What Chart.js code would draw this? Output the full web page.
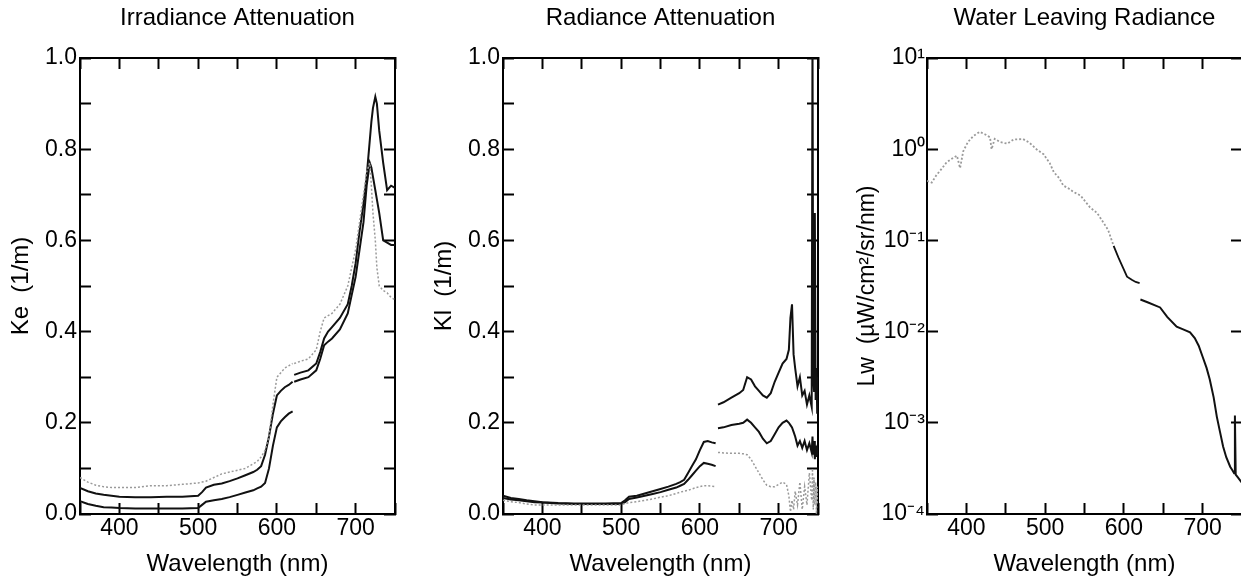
<!DOCTYPE html>
<html><head><meta charset="utf-8">
<script src="https://cdn.jsdelivr.net/npm/chart.js@4"></script>
<style>
html,body{margin:0;padding:0;background:#fff;overflow:hidden;width:1241px;height:579px;position:relative}
canvas{position:absolute;top:0}
</style></head><body>
<canvas id="c1" width="475" height="579" style="left:0px"></canvas>
<canvas id="c2" width="475" height="579" style="left:423px"></canvas>
<canvas id="c3" width="475" height="579" style="left:847px"></canvas>
<script>
// ---------- categories / tick labels ----------
const xTickLabels = [400, 500, 600, 700];
const yTickLabels = ['0.0', '0.2', '0.4', '0.6', '0.8', '1.0'];
const lwTickValues = [1e-4, 1e-3, 1e-2, 1e-1, 1, 10];
const lwTickLabels = ['10\u207B\u2074', '10\u207B\u00B3', '10\u207B\u00B2', '10\u207B\u00B9', '10\u2070', '10\u00B9'];
const panelTitles = ['Irradiance Attenuation', 'Radiance Attenuation', 'Water Leaving Radiance'];
const yTitles = ['Ke  (1/m)', 'Kl  (1/m)', 'Lw  (\u00B5W/cm\u00B2/sr/nm)'];
const xTitle = 'Wavelength (nm)';

// ---------- wavelengths ----------
const wlShort = [350,360,370,380,390,400,420,440,460,480,500,505,510,520,530,540,550,560,570,575,580,585,590,595,600,605,610,615,620];
const wlLong1 = [622,630,640,650,655,660,665,670,680,690,695,700,705,710,714,718,720,722,725,727,730,735,740,745,750];
const wlLong2 = [623,630,640,650,655,660,665,670,675,680,685,690,695,700,705,710,713,715,717,719,721,724,727,730,733,736,739,742,743,744,745,746,747,748,749,750];
const lwShortWl = [350,356,362,368,375,383,388,392,396,402,409,417,424,430,432,436,443,452,460,472,480,489,498,506,511,518,523,530,536,545,557,566,574,580,587,593,599,604,610,615,620];
const lwLongWl = [621,630,646,655,667,676,684,690,695,700,705,709,714,718,722,726,730,735,738,740,741,742,745,750];

// ---------- Panel 1: Ke ----------
const keGrayShort = [.08,.07,.063,.06,.058,.058,.058,.062,.062,.065,.068,.07,.072,.08,.088,.092,.096,.1,.11,.115,.125,.14,.17,.24,.3,.31,.32,.325,.33];
const keMidShort  = [.057,.05,.045,.042,.04,.038,.037,.037,.038,.038,.04,.048,.058,.064,.067,.072,.078,.085,.092,.097,.105,.13,.17,.22,.26,.27,.278,.283,.29];
const keLowShort  = [.028,.022,.018,.015,.014,.013,.012,.012,.012,.012,.013,.02,.027,.03,.033,.037,.042,.047,.052,.056,.06,.068,.1,.15,.19,.203,.212,.22,.225];
const keGrayLong  = [.33,.335,.34,.36,.40,.43,.435,.44,.46,.5,.54,.58,.64,.70,.75,.77,.72,.66,.6,.54,.5,.49,.485,.475,.47];
const keMidLong   = [.29,.295,.3,.315,.34,.37,.378,.385,.405,.44,.48,.52,.58,.64,.72,.77,.76,.74,.71,.69,.66,.6,.595,.59,.59];
const keLowLong   = [.305,.31,.315,.33,.355,.385,.4,.41,.43,.46,.5,.55,.62,.68,.74,.82,.86,.89,.915,.9,.84,.77,.71,.72,.715];

// ---------- Panel 2: Kl ----------
const klAShort    = [.04,.035,.033,.03,.028,.026,.024,.023,.023,.023,.024,.03,.038,.04,.045,.05,.055,.06,.066,.07,.075,.09,.105,.12,.14,.158,.16,.157,.155];
const klBShort    = [.035,.032,.03,.028,.026,.025,.023,.022,.022,.022,.022,.026,.033,.036,.04,.044,.048,.053,.058,.062,.066,.075,.085,.095,.105,.112,.11,.108,.105];
const klGrayShort = [.03,.027,.025,.022,.02,.02,.02,.02,.02,.02,.02,.023,.025,.027,.03,.033,.037,.04,.045,.048,.05,.052,.055,.058,.06,.062,.062,.061,.06];
const klALong     = [.24,.245,.255,.265,.272,.3,.295,.28,.27,.26,.255,.265,.29,.31,.33,.34,.36,.43,.46,.35,.32,.28,.3,.26,.27,.24,.26,.235,1.05,.3,.27,.66,.25,.32,.22,.3];
const klBLong     = [.188,.19,.195,.198,.2,.207,.2,.19,.18,.165,.155,.16,.175,.19,.2,.205,.2,.195,.19,.18,.17,.15,.16,.145,.16,.14,.155,.135,.17,.13,.16,.12,.15,.125,.14,.13];
const klGrayLong  = [.135,.134,.133,.133,.132,.13,.12,.105,.09,.075,.063,.06,.06,.065,.07,.065,.04,.005,.03,.01,.05,.02,.07,.01,.06,.02,.09,.03,.1,.01,.08,.02,.07,0,.06,.02];

// ---------- Panel 3: Lw ----------
const lwShort = [.45,.43,.52,.6,.72,.8,.85,.62,.95,1.2,1.4,1.55,1.45,1.35,1.0,1.3,1.2,1.15,1.28,1.29,1.18,1.0,.88,.7,.56,.48,.4,.37,.34,.31,.23,.2,.157,.13,.087,.065,.05,.04,.037,.035,.034];
const lwLong  = [.0225,.021,.0184,.0145,.0113,.0105,.0098,.0085,.007,.0053,.004,.003,.0019,.00117,.0008,.00055,.00042,.00033,.0003,.00028,.0012,.00027,.00025,.00022];
const lwGrayEnd = 587;

// ---------- styling ----------
const FONT = "'Liberation Sans', Arial, Helvetica, sans-serif";
Chart.defaults.font.family = FONT;
Chart.defaults.color = '#000';
const BLACK = '#111';
const GRAY = '#9a9a9a';

const pts = (wl, v) => wl.map((w, i) => ({x: w, y: v[i]}));
const blackDs = (wl, v) => ({data: pts(wl, v), borderColor: BLACK, borderWidth: 2, pointRadius: 0, tension: 0});
const grayDs = (wl, v) => ({data: pts(wl, v), borderColor: GRAY, borderWidth: 1.5, borderDash: [2, 2], pointRadius: 0, tension: 0});

const gridOpts = {drawOnChartArea: false, drawTicks: true, tickLength: -11, tickWidth: 2, tickColor: '#000'};
const borderOpts = {display: true, color: '#000', width: 2};

function xScale(pos, withLabels) {
  return {
    type: 'linear', position: pos, min: 350, max: 750,
    grid: gridOpts, border: borderOpts,
    ticks: {display: withLabels, stepSize: 50, autoSkip: false, maxRotation: 0, minRotation: 0,
      padding: 12, font: {size: 23}, color: '#000',
      callback: v => xTickLabels.includes(v) ? String(v) : ''},
    title: withLabels ? {display: true, text: xTitle, font: {size: 24}, color: '#000', padding: {top: 0, bottom: 0}} : {display: false},
    afterFit: s => { s.height = withLabels ? 65 : 0; }
  };
}
function yLinScale(pos, withLabels, title) {
  return {
    type: 'linear', position: pos, min: 0, max: 1,
    grid: gridOpts, border: borderOpts,
    ticks: {display: withLabels, stepSize: 0.1, autoSkip: false, padding: 14, font: {size: 23}, color: '#000',
      callback: v => { const s = (Math.round(v * 10) / 10).toFixed(1); return yTickLabels.includes(s) ? s : ''; }},
    title: withLabels ? {display: true, text: title, font: {size: 24}, color: '#000', padding: {top: 7, bottom: 0}} : {display: false},
    afterFit: s => { s.width = 80; }
  };
}
function yLogScale(pos, withLabels, title) {
  return {
    type: 'logarithmic', position: pos, min: 1e-4, max: 10,
    grid: gridOpts, border: borderOpts,
    afterBuildTicks: s => { s.ticks = lwTickValues.map(v => ({value: v})); },
    ticks: {display: withLabels, autoSkip: false, padding: 13, font: {size: 23}, color: '#000',
      callback: v => { const i = lwTickValues.findIndex(t => Math.abs(Math.log10(t) - Math.log10(v)) < 1e-6); return i >= 0 ? lwTickLabels[i] : ''; }},
    title: withLabels ? {display: true, text: title, font: {size: 23}, color: '#000', padding: {top: 7, bottom: 0}} : {display: false},
    afterFit: s => { s.width = 80; }
  };
}

function makeChart(id, title, datasets, yBuilder, yTitle) {
  return new Chart(document.getElementById(id), {
    type: 'line',
    data: {datasets},
    options: {
      responsive: false, animation: false, parsing: true,
      layout: {padding: {left: 0, right: 0, top: 0, bottom: 0}},
      plugins: {
        legend: {display: false}, tooltip: {enabled: false},
        title: {display: true, text: title, color: '#000', font: {size: 24, weight: 'normal'}, padding: {top: 4, bottom: 25.2}}
      },
      scales: {
        x: xScale('bottom', true),
        x2: xScale('top', false),
        y: yBuilder('left', true, yTitle),
        y2: yBuilder('right', false, '')
      }
    }
  });
}

makeChart('c1', panelTitles[0], [
  grayDs(wlShort, keGrayShort), blackDs(wlShort, keMidShort), blackDs(wlShort, keLowShort),
  grayDs(wlLong1, keGrayLong), blackDs(wlLong1, keMidLong), blackDs(wlLong1, keLowLong)
], yLinScale, yTitles[0]);

makeChart('c2', panelTitles[1], [
  grayDs(wlShort, klGrayShort), blackDs(wlShort, klAShort), blackDs(wlShort, klBShort),
  grayDs(wlLong2, klGrayLong), blackDs(wlLong2, klALong), blackDs(wlLong2, klBLong)
], yLinScale, yTitles[1]);

makeChart('c3', panelTitles[2], [
  {data: pts(lwShortWl, lwShort), borderColor: BLACK, borderWidth: 1.8, pointRadius: 0, tension: 0,
   segment: {
     borderColor: c => c.p0.parsed.x < lwGrayEnd ? GRAY : BLACK,
     borderDash: c => c.p0.parsed.x < lwGrayEnd ? [2, 2] : []
   }},
  blackDs(lwLongWl, lwLong)
], yLogScale, yTitles[2]);
</script>
</body></html>
